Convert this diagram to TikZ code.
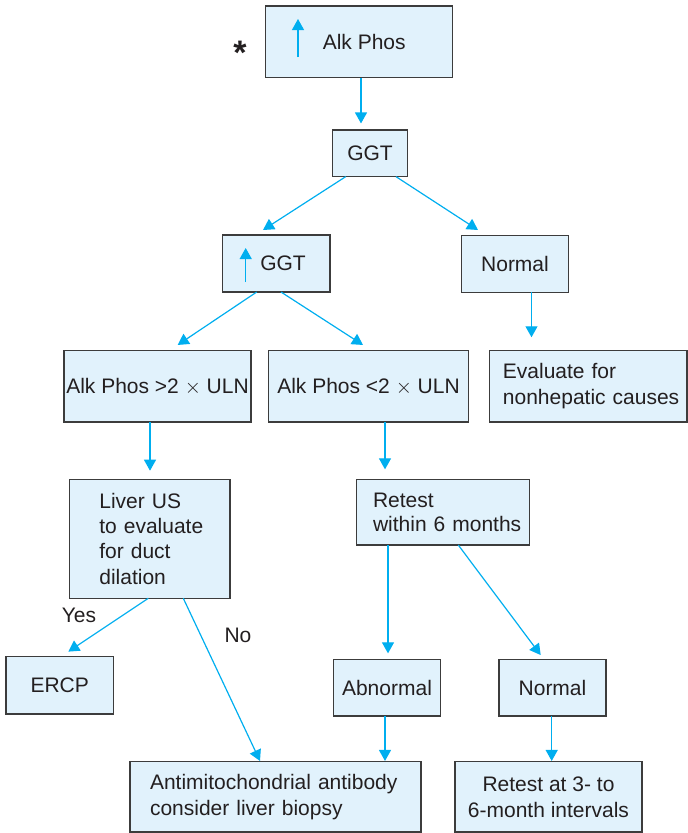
\documentclass[tikz,border=0pt]{standalone}
\usepackage{fontspec}
\setmainfont{Liberation Sans}
\usetikzlibrary{arrows.meta}
\definecolor{flowcyan}{HTML}{00AEEF}
\definecolor{boxfill}{HTML}{E1F2FC}
\definecolor{boxline}{HTML}{3C3C3C}
\definecolor{txt}{HTML}{231F20}
\tikzset{
  box/.style={draw=boxline, fill=boxfill, line width=1.3pt, inner sep=0pt, outer sep=0pt,
    text=txt, font=\fontsize{21}{25.5}\selectfont},
  lbox/.style={box, align=left},
  cbox/.style={box, align=center},
  flow/.style={draw=flowcyan, line width=1.2pt, -{Triangle[length=11pt,width=12pt]}},
  lbl/.style={text=txt, font=\fontsize{21}{25}\selectfont, inner sep=0pt}
}
\begin{document}
\begin{tikzpicture}[x=1pt,y=-1pt]
\useasboundingbox (0,0) rectangle (688,833);

% boxes
\node[box, minimum width=187pt, minimum height=71.7pt] (top) at (359.2,41.8) {\hspace*{10pt}Alk Phos};
\node[box, minimum width=74.6pt, minimum height=46.7pt] (ggt) at (370,153.3) {GGT};
\node[box, minimum width=107.3pt, minimum height=57pt] (hggt) at (276.3,263.5) {\hspace*{13.4pt}GGT};
\node[box, minimum width=106.6pt, minimum height=56.6pt] (nrm1) at (515,264) {Normal};
\node[box, minimum width=187pt, minimum height=71.3pt] (alkhi) at (157.5,386.3) {Alk Phos >2 $\times$ ULN};
\node[box, minimum width=200.4pt, minimum height=71.3pt] (alklo) at (368.5,386.3) {Alk Phos <2 $\times$ ULN};
\node[lbox, text width=197.3pt, minimum height=71.3pt] (evalb) at (588.3,386.3)
  {\hspace*{13.3pt}Evaluate for\\\hspace*{13.3pt}nonhepatic causes};
\node[lbox, text width=160.7pt, minimum height=119pt, font=\fontsize{21}{25.3}\selectfont] (liver) at (149.7,538.8)
  {\hspace*{30pt}Liver US\\\hspace*{30pt}to evaluate\\\hspace*{30pt}for duct\\\hspace*{30pt}dilation};
\node[lbox, text width=172.6pt, minimum height=65.7pt, font=\fontsize{21}{24.6}\selectfont] (retest) at (443,512.2)
  {\hspace*{16.3pt}Retest\\\hspace*{16.3pt}within 6 months};
\node[box, minimum width=107.3pt, minimum height=57.3pt] (ercp) at (59.7,685.3) {ERCP};
\node[box, minimum width=107.4pt, minimum height=56.7pt] (abn) at (387,687.7) {Abnormal};
\node[box, minimum width=107pt, minimum height=56.7pt] (nrm2) at (552.5,687.7) {Normal};
\node[lbox, text width=291pt, minimum height=70.3pt, font=\fontsize{21}{26.4}\selectfont] (anti) at (275.5,796.8)
  {\hspace*{20pt}Antimitochondrial antibody\\\hspace*{20pt}consider liver biopsy};
\node[cbox, minimum width=187pt, minimum height=70.3pt, font=\fontsize{21}{26}\selectfont] (ret2) at (548.5,796.8)
  {Retest at 3- to\\6-month intervals};

% star and labels
\node[font=\fontsize{34}{34}\selectfont\bfseries, text=txt, inner sep=0pt, anchor=base] (star) at (240,64.7) {*};
\node[lbl] (yes) at (79,615) {Yes};
\node[lbl] (no) at (238,635) {No};

% up arrows inside boxes
\draw[flow] ([xshift=-61.2pt,yshift=-15.2pt]top.center) -- ([xshift=-61.2pt,yshift=22.8pt]top.center);
\draw[flow] ([xshift=-30.6pt,yshift=-18.5pt]hggt.center) -- ([xshift=-30.6pt,yshift=15.5pt]hggt.center);

% connectors
\draw[flow] ([xshift=1.8pt]top.south) -- ([xshift=-9pt,yshift=6.5pt]ggt.north);
\draw[flow] ([xshift=-24.3pt]ggt.south) -- ([xshift=-13.3pt,yshift=5pt]hggt.north);
\draw[flow] ([xshift=26pt]ggt.south) -- ([xshift=-37pt,yshift=5.7pt]nrm1.north);
\draw[flow] ([xshift=-19.6pt]hggt.south) -- ([xshift=20.2pt,yshift=5.7pt]alkhi.north);
\draw[flow] ([xshift=4.7pt]hggt.south) -- ([xshift=-5.5pt,yshift=5.7pt]alklo.north);
\draw[flow] ([xshift=16.5pt]nrm1.south) -- ([xshift=-56.8pt,yshift=13.4pt]evalb.north);
\draw[flow] ([xshift=-7.5pt]alkhi.south) -- ([xshift=0.3pt,yshift=8.6pt]liver.north);
\draw[flow] ([xshift=16.5pt]alklo.south) -- ([xshift=-58pt,yshift=10pt]retest.north);
\draw[flow] ([xshift=-1.4pt]liver.south) -- ([xshift=8.6pt,yshift=5pt]ercp.north);
\draw[flow] ([xshift=33.6pt]liver.south) -- ([xshift=-15.5pt,yshift=0.7pt]anti.north);
\draw[flow] ([xshift=-55pt]retest.south) -- ([xshift=1pt,yshift=6pt]abn.north);
\draw[flow] ([xshift=15.3pt]retest.south) -- ([xshift=-11.8pt,yshift=4.3pt]nrm2.north);
\draw[flow] ([xshift=-2pt]abn.south) -- ([xshift=109.5pt,yshift=0.7pt]anti.north);
\draw[flow] ([xshift=-0.8pt]nrm2.south) -- ([xshift=3.2pt,yshift=0.7pt]ret2.north);
\end{tikzpicture}
\end{document}
